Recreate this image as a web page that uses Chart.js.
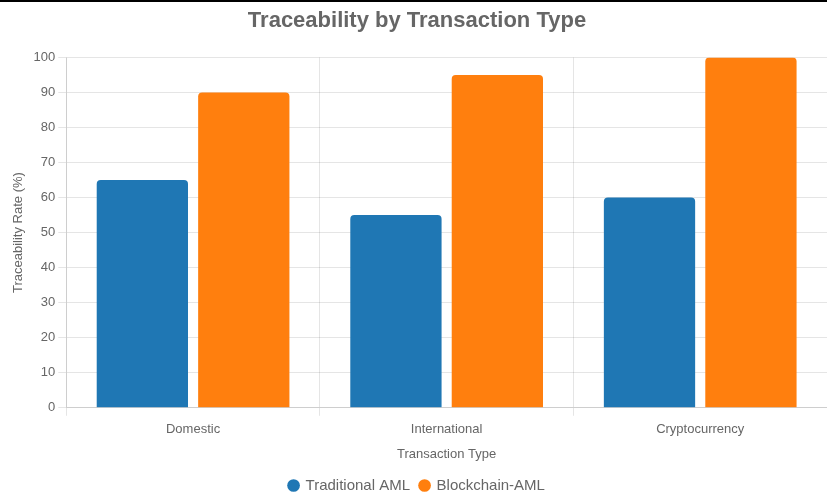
<!DOCTYPE html>
<html>
<head>
<meta charset="utf-8">
<script src="https://cdn.jsdelivr.net/npm/chart.js@4"></script>
<style>
	html, body { margin: 0; padding: 0; background: #fff; }
	#wrap { width: 827px; height: 495px; position: relative; border-top: 2px solid #000; box-sizing: border-box; }
</style>
</head>
<body>
<div id="wrap"><canvas id="traceChart"></canvas></div>
<script>
const categories = ['Domestic', 'International', 'Cryptocurrency'];
const traditionalAml = [65, 55, 60];
const blockchainAml = [90, 95, 100];
const yTicks = { min: 0, max: 100, step: 10 };

Chart.defaults.font.family = '"Liberation Sans", Arial, sans-serif';
Chart.defaults.color = '#666';

new Chart(document.getElementById('traceChart'), {
	type: 'bar',
	data: {
		labels: categories,
		datasets: [
			{
				label: 'Traditional AML',
				data: traditionalAml,
				backgroundColor: '#1f77b4',
				borderRadius: 4
			},
			{
				label: 'Blockchain-AML',
				data: blockchainAml,
				backgroundColor: '#ff7f0e',
				borderRadius: 4
			}
		]
	},
	options: {
		responsive: true,
		maintainAspectRatio: false,
		animation: false,
		layout: { padding: { top: 2, right: 0, left: 7, bottom: -8 } },
		plugins: {
			title: {
				display: true,
				text: 'Traceability by Transaction Type',
				font: { size: 22, weight: 'bold' },
				color: '#666',
				padding: { top: 4, bottom: 23 }
			},
			legend: {
				position: 'bottom',
				labels: {
					usePointStyle: true,
					pointStyle: 'circle',
					boxWidth: 9,
					boxHeight: 9,
					font: { size: 15 },
					padding: 10
				}
			}
		},
		scales: {
			x: {
				title: { display: true, text: 'Transaction Type', font: { size: 13 }, padding: { top: 3, bottom: 6 } },
				ticks: { font: { size: 13 }, padding: 6 }
			},
			y: {
				min: yTicks.min,
				max: yTicks.max,
				ticks: { stepSize: yTicks.step, font: { size: 13 } },
				title: { display: true, text: 'Traceability Rate (%)', font: { size: 13 } }
			}
		}
	}
});
</script>
</body>
</html>
